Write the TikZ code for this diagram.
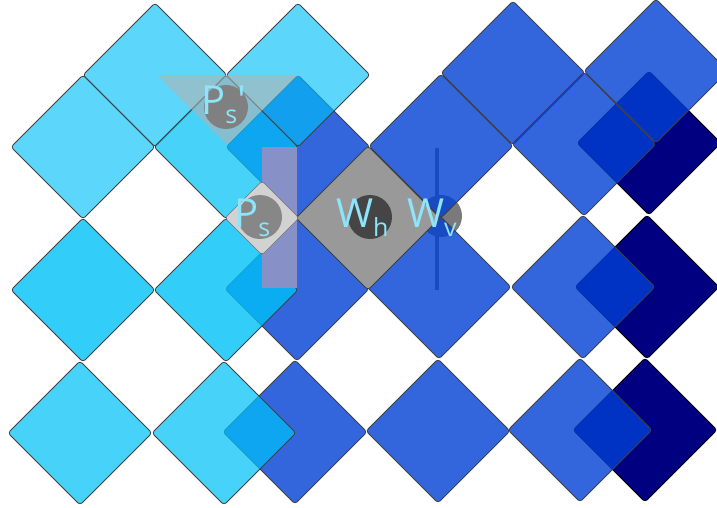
\documentclass[tikz,border=0pt]{standalone}
\usepackage{fontspec}
\newfontfamily\lbl{Open Sans}[Ligatures=TeXOff]
\usetikzlibrary{shapes.geometric}

\definecolor{skyfill}{RGB}{0,192,248}
\definecolor{royalfill}{RGB}{0,64,212}
\definecolor{navyfill}{RGB}{0,0,128}
\definecolor{labelcyan}{RGB}{142,228,250}
\definecolor{bandfill}{RGB}{136,144,200}
\definecolor{palegray}{RGB}{210,210,210}
\definecolor{winggray}{RGB}{178,178,178}
\definecolor{whgray}{RGB}{153,153,153}

\tikzset{
  tile/.style={diamond, aspect=1, minimum width=144pt, minimum height=144pt,
    inner sep=0pt, outer sep=0pt, rounded corners=3pt, draw=black!75, line width=0.8pt},
  skytile/.style={tile, fill=skyfill, fill opacity=#1},
  royaltile/.style={tile, fill=royalfill, fill opacity=0.8},
  navytile/.style={tile, fill=navyfill, draw=black},
  disc/.style={circle, minimum size=44pt, inner sep=0pt},
  lab/.style={text=labelcyan, font=\lbl\fontsize{40}{40}\selectfont, inner sep=0pt, anchor=base west},
}
\newcommand\lowidx[1]{\raisebox{-9pt}{\fontsize{25}{25}\selectfont #1}}

\begin{document}
\begin{tikzpicture}[x=1pt, y=-1pt]
\useasboundingbox (0,0) rectangle (717,508);

% vertical window marker, lying under the blue tiles
\draw[black!52, line width=4pt] (437,148) -- (437,290);
\node[disc, minimum size=42pt, fill=black!52] (wvc) at (441,216) {};

% dark tiles on the right
\node[navytile] (n1) at (649,143) {};
\node[navytile] (n2) at (647,287) {};
\node[navytile] (n3) at (645,430) {};

% blue tiles
\node[royaltile] (b1) at (513,73) {};
\node[royaltile] (b2) at (656,71) {};
\node[royaltile] (b3) at (298,147) {};
\node[royaltile] (b4) at (441,146) {};
\node[royaltile] (b5) at (584,144) {};
\node[royaltile] (b6) at (297,289) {};
\node[royaltile] (b7) at (439,287) {};
\node[royaltile] (b8) at (583,287) {};
\node[royaltile] (b9) at (295,432) {};
\node[royaltile] (b10) at (438,431) {};
\node[royaltile] (b11) at (580,430) {};

% horizontal window tile
\node[tile, fill=whgray] (wh) at (368,218) {};

% light tiles
\node[skytile=0.64] (c1) at (155,75) {};
\node[skytile=0.64] (c2) at (298,75) {};
\node[skytile=0.64] (c3) at (83,147) {};
\node[skytile=0.72] (c4) at (226,147) {};
\node[skytile=0.8] (c5) at (83,290) {};
\node[skytile=0.8] (c6) at (226,290) {};
\node[skytile=0.72] (c7) at (80,433) {};
\node[skytile=0.72] (c8) at (224,433) {};

% shifted pixel regions
\fill[winggray, opacity=0.59] (157,75) -- (298,75) -- (227,145) -- cycle;
\fill[bandfill] (262,147) rectangle (297,288);
\node[tile, minimum width=74pt, minimum height=74pt, fill=palegray, draw=black!55, line width=0.6pt] (gap) at (262,218) {};

% discs under the labels
\node[disc, fill=black!50] (pspc) at (226,107) {};
\node[disc, fill=black!47] (psc) at (260,217) {};
\node[disc, fill=black!73] (whc) at (370,217) {};

% labels
\node[lab] (pspl) at (201,115) {P\lowidx{s}'};
\node[lab] (psl) at (234,227) {P\lowidx{s}};
\node[lab] (whl) at (336,227) {W\lowidx{h}};
\node[lab] (wvl) at (407,227) {W\lowidx{v}};
\end{tikzpicture}
\end{document}
